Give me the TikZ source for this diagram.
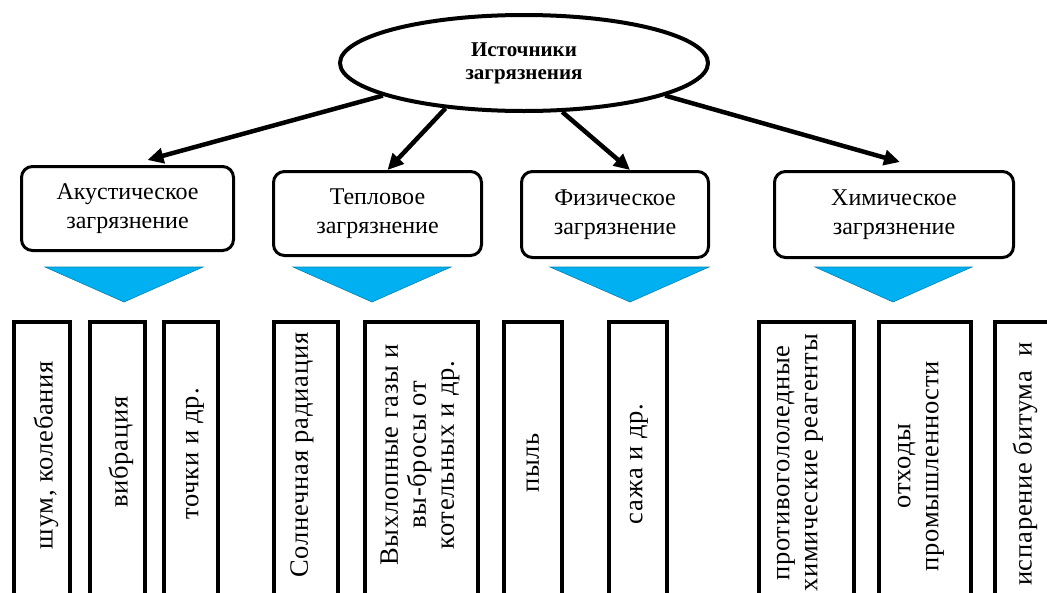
\documentclass[tikz,border=0pt]{standalone}
\usepackage{fontspec}
\setmainfont{Liberation Serif}
\newfontfamily\vertfont[LetterSpace=3]{Liberation Serif}
\usepackage{tikz}
\usetikzlibrary{positioning}
\usetikzlibrary{shapes.geometric,arrows.meta}
\definecolor{WedgeBlue}{RGB}{0,176,240}

\begin{document}
\begin{tikzpicture}[x=1pt,y=-1pt,
	srcnode/.style={draw, ellipse, line width=4pt, minimum width=368pt, minimum height=96pt,
		inner sep=0pt, align=center, font=\fontsize{21pt}{23pt}\selectfont\bfseries},
	kindbox/.style={draw, rounded corners=11pt, line width=3pt, inner sep=0pt,
		align=center, font=\fontsize{24pt}{29pt}\selectfont},
	itemframe/.style={draw, line width=4pt, inner sep=0pt, minimum height=300pt},
	itemtext/.style={rotate=90, inner sep=0pt, align=center,
		font=\vertfont\fontsize{26.5pt}{28pt}\selectfont},
	pointer/.style={line width=4.5pt, -{Triangle[length=16pt,width=15pt]}},
	wedge/.style={fill=WedgeBlue, draw=WedgeBlue!75!black, line width=0.6pt},
	]
	
	% ------------------------------------------------
	% Size of the graphic
	\useasboundingbox (0,0) rectangle (1047,592);
	
	% ------------------------------------------------
	% Source of pollution
	\node[srcnode] (Src) at (524,63) {Источники\\загрязнения};
	
	% ----------------
	% Kinds of pollution
	\node[kindbox, minimum width=212pt, minimum height=84pt] (Acu)    at (127.5,208.5) {Акустическое\\загрязнение};
	\node[kindbox, minimum width=208pt, minimum height=84pt] (Thermo) at (377.5,213.5) {Тепловое\\загрязнение};
	\node[kindbox, minimum width=187pt, minimum height=86pt] (Phys)   at (615,214.5)   {Физическое\\загрязнение};
	\node[kindbox, minimum width=239pt, minimum height=86pt] (Chem)   at (894,214.5)   {Химическое\\загрязнение};
	
	\draw[pointer] (Src.193) -- ([xshift=20pt,yshift=5pt]Acu.north);
	\draw[pointer] (Src.210) -- ([xshift=10pt]Thermo.north);
	\draw[pointer] (Src.308) -- ([xshift=15pt]Phys.north);
	\draw[pointer] (Src.347) -- ([xshift=6pt,yshift=8pt]Chem.north);
	
	% ----------------
	% Blue wedges
	\foreach \l/\r/\m in {45/203/124, 293/451/372, 550/709/630, 815/972/893}
		\filldraw[wedge] (\l,267) -- (\r,267) -- (\m,302) -- cycle;
	
	% ----------------
	% Examples, in upright frames
	\node[itemframe, minimum width=56pt]  (NoiseF) at (42,472)    {};
	\node[itemframe, minimum width=55pt]  (VibrF)  at (117.5,472) {};
	\node[itemframe, minimum width=54pt]  (DotsF)  at (191,472)   {};
	\node[itemframe, minimum width=64pt]  (SunF)   at (306,472)   {};
	\node[itemframe, minimum width=113pt] (ExhF)   at (421.5,472) {};
	\node[itemframe, minimum width=58pt]  (DustF)  at (533,472)   {};
	\node[itemframe, minimum width=58pt]  (SootF)  at (638,472)   {};
	\node[itemframe, minimum width=95pt]  (IceF)   at (806.5,472) {};
	\node[itemframe, minimum width=92pt]  (WasteF) at (925,472)   {};
	\node[itemframe, minimum width=93pt]  (BitF)   at (1041.5,472) {};
	
	\node[itemtext] (Noise) at (46,455)   {шум, колебания};
	\node[itemtext] (Vibr)  at (121,452)  {вибрация};
	\node[itemtext] (Dots)  at (195,454)  {точки и др.};
	\node[itemtext] (Sun)   at (302,455)  {Солнечная радиация};
	\node[itemtext] (Exh)   at (420,455)  {Выхлопные газы и\\вы-бросы от\\котельных и др.};
	\node[itemtext] (Dust)  at (533,463)  {пыль};
	\node[itemtext] (Soot)  at (639,464)  {сажа и др.};
	\node[itemtext] (Ice)   at (800,463)  {противогололедные\\химические реагенты};
	\node[itemtext] (Waste) at (921,466)  {отходы\\промышленности};
	\node[itemtext] (Bit)   at (1025,464) {испарение битума\ \ и};
	
\end{tikzpicture}
\end{document}
